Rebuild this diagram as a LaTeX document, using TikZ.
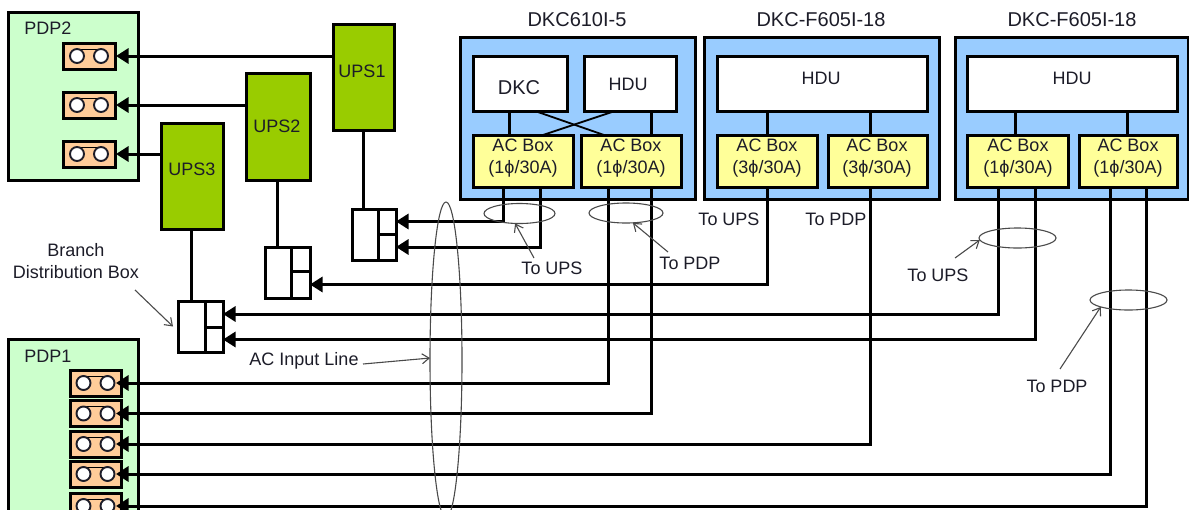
\documentclass[tikz,border=0pt]{standalone}
\usepackage{fontspec}
\setmainfont{Liberation Sans}
\usetikzlibrary{arrows.meta,shapes.geometric,calc}
\definecolor{pdpgreen}{HTML}{CCFFCC}
\definecolor{outletorange}{HTML}{FFCC99}
\definecolor{upsgreen}{HTML}{99CC00}
\definecolor{dkblue}{HTML}{99CCFF}
\definecolor{acyellow}{HTML}{FFFF99}
\definecolor{inkc}{HTML}{1C1C28}
\definecolor{thinc}{HTML}{4A4A4A}
\tikzset{
  rbox/.style={draw=black,line width=3.0pt,inner sep=0pt,outer sep=0pt,anchor=north west},
  pdpbox/.style={rbox,fill=pdpgreen},
  outletbox/.style={rbox,fill=outletorange},
  upsbox/.style={rbox,fill=upsgreen},
  dkbox/.style={rbox,fill=dkblue},
  whitebox/.style={rbox,fill=white},
  acbox/.style={rbox,fill=acyellow},
  lbl/.style={inner sep=0pt,outer sep=0pt,text=inkc,align=center,font=\fontsize{18}{22}\selectfont},
  biglbl/.style={lbl,font=\fontsize{20}{22}\selectfont},
  conn/.style={draw=black,line width=3.0pt},
  feedline/.style={conn,-{Triangle[length=12.5pt,width=15pt]}},
  thinx/.style={draw=black,line width=1.8pt},
  loopring/.style={ellipse,draw=thinc,line width=1.1pt,inner sep=0pt,outer sep=0pt,fill=none},
  pointer/.style={draw=thinc,line width=1.1pt,-{Straight Barb[length=7pt,width=10pt]}},
}
% style, name, x1, y1, x2, y2
\newcommand{\rectnode}[6]{%
  \pgfmathsetmacro{\rw}{#5-#3}\pgfmathsetmacro{\rh}{#6-#4}%
  \node[#1,minimum width=\rw pt,minimum height=\rh pt] (#2) at (#3,#4) {};}
% name, x1, y1, x2, y2 (circle spacing fixed)
\newcommand{\outlet}[5]{%
  \rectnode{outletbox}{#1}{#2}{#3}{#4}{#5}%
  \draw[black,line width=1pt] ($(#1.center)+(-12,-7)$) -- ($(#1.center)+(12,-7)$);
  \draw[fill=white,draw=inkc,line width=1.9pt] ($(#1.center)+(-12,0)$) circle (7pt);
  \draw[fill=white,draw=inkc,line width=1.9pt] ($(#1.center)+(12,0)$) circle (7pt);}
% from, to, x : vertical stem
\newcommand{\stem}[3]{\coordinate (hh) at (#3,0);\draw[conn] (#1.south -| hh) -- (#2.north -| hh);}
% from, to, x : feed to a branch box
\newcommand{\feedbox}[3]{\coordinate (hh) at (#3,0);\draw[feedline] (#1.south -| hh) |- (#2.east);}
% from, to, x : feed to an outlet
\newcommand{\feedout}[3]{\coordinate (hh) at (#3,0);\draw[feedline] (#1.south -| hh) |- ([xshift=-5pt]#2.east);}
\begin{document}
\begin{tikzpicture}[x=1pt,y=-1pt]
\useasboundingbox (0,0) rectangle (1189,509);
\clip (0,0) rectangle (1189,509);

% PDP2
\rectnode{pdpbox}{pdp2}{8}{12}{138}{180}
\node[lbl] (pdp2l) at (48,28) {PDP2};
\outlet{oa}{63}{43}{115}{69}
\outlet{ob}{63}{92}{115}{118}
\outlet{oc}{63}{141}{115}{167}

% PDP1
\rectnode{pdpbox}{pdp1}{8}{339}{138}{530}
\node[lbl] (pdp1l) at (48,356) {PDP1};
\outlet{pa}{70}{370}{121}{396}
\outlet{pb}{70}{400.5}{121}{426.5}
\outlet{pc}{70}{431}{121}{457}
\outlet{pd}{70}{461}{121}{487}
\outlet{pe}{70}{493}{121}{519}

% UPS
\rectnode{upsbox}{ups1}{333}{24}{394}{130}
\node[lbl] (ups1l) at (362,71) {UPS1};
\rectnode{upsbox}{ups2}{246}{73}{310}{180}
\node[lbl] (ups2l) at (277,126) {UPS2};
\rectnode{upsbox}{ups3}{161}{123}{223}{229}
\node[lbl] (ups3l) at (192,169) {UPS3};

\draw[feedline] (ups1.west |- oa.east) -- ([xshift=1pt]oa.east);
\draw[feedline] (ups2.west |- ob.east) -- ([xshift=1pt]ob.east);
\draw[feedline] (ups3.west |- oc.east) -- ([xshift=1pt]oc.east);

% Branch distribution boxes
\rectnode{whitebox}{bal}{352}{209}{378}{260}
\rectnode{whitebox}{baa}{378}{209}{396}{234}
\rectnode{whitebox}{bab}{378}{234}{396}{260}
\rectnode{whitebox}{bbl}{265}{247}{291}{298}
\rectnode{whitebox}{bba}{291}{247}{310}{271}
\rectnode{whitebox}{bbb}{291}{271}{310}{298}
\rectnode{whitebox}{bcl}{178}{301}{205}{352}
\rectnode{whitebox}{bca}{205}{301}{223}{327}
\rectnode{whitebox}{bcb}{205}{327}{223}{352}

\stem{ups1}{bal}{363}
\stem{ups2}{bbl}{277}
\stem{ups3}{bcl}{191}

% DKC610I-5
\node[biglbl] (t1) at (577,20) {DKC610I-5};
\rectnode{dkbox}{fa}{460}{37}{695}{199}
\rectnode{whitebox}{dkc}{473}{56}{567}{111}
\node[biglbl] (dkcl) at (519,88) {DKC};
\rectnode{whitebox}{hdua}{584}{56}{676}{111}
\node[lbl] (hdual) at (628,84) {HDU};
\rectnode{acbox}{aca}{473}{135}{573}{187}
\node[lbl] (acal) at (523,158) {AC Box\\(1ϕ/30A)};
\rectnode{acbox}{acb}{581}{135}{681}{187}
\node[lbl] (acbl) at (631,158) {AC Box\\(1ϕ/30A)};
\stem{dkc}{aca}{509}
\stem{hdua}{acb}{651}
\coordinate (cxa) at (535,0);\coordinate (cxb) at (604,0);
\coordinate (cxc) at (615,0);\coordinate (cxd) at (543,0);
\draw[thinx] (dkc.south -| cxa) -- (acb.north -| cxb);
\draw[thinx] (hdua.south -| cxc) -- (aca.north -| cxd);

% DKC-F605I-18 (middle)
\node[biglbl] (t2) at (821,20) {DKC-F605I-18};
\rectnode{dkbox}{fb}{704}{37}{939}{199}
\rectnode{whitebox}{hdub}{717}{56}{927}{111}
\node[lbl] (hdubl) at (821,78) {HDU};
\rectnode{acbox}{acc}{717}{135}{817}{187}
\node[lbl] (accl) at (767,158) {AC Box\\(3ϕ/30A)};
\rectnode{acbox}{acd}{828}{135}{927}{187}
\node[lbl] (acdl) at (877,158) {AC Box\\(3ϕ/30A)};
\stem{hdub}{acc}{767}
\stem{hdub}{acd}{870}

% DKC-F605I-18 (right)
\node[biglbl] (t3) at (1072,20) {DKC-F605I-18};
\rectnode{dkbox}{fc}{955}{37}{1188}{199}
\rectnode{whitebox}{hduc}{967}{56}{1177}{111}
\node[lbl] (hducl) at (1072,78) {HDU};
\rectnode{acbox}{ace}{967}{135}{1068}{187}
\node[lbl] (acel) at (1018,158) {AC Box\\(1ϕ/30A)};
\rectnode{acbox}{acf}{1079}{135}{1177}{187}
\node[lbl] (acfl) at (1128,158) {AC Box\\(1ϕ/30A)};
\stem{hduc}{ace}{1015}
\stem{hduc}{acf}{1127}

% Feed lines
\feedbox{aca}{baa}{503}
\feedbox{aca}{bab}{540}
\feedbox{acc}{bbb}{767}
\feedbox{ace}{bca}{998}
\feedbox{ace}{bcb}{1035}
\feedout{acb}{pa}{608}
\feedout{acb}{pb}{651}
\feedout{acd}{pc}{870}
\feedout{acf}{pd}{1110}
\feedout{acf}{pe}{1146}

% Loop rings
\node[loopring,minimum width=71pt,minimum height=20pt] (ra) at (519.5,213.5) {};
\node[loopring,minimum width=74pt,minimum height=20pt] (rb) at (626,213) {};
\node[loopring,minimum width=77pt,minimum height=20pt] (rc) at (1017.5,238) {};
\node[loopring,minimum width=77pt,minimum height=20pt] (rd) at (1128.5,300) {};
\node[loopring,minimum width=32pt,minimum height=316pt] (re) at (446,360) {};

% Annotations
\node[lbl] (tua) at (552,268) {To UPS};
\coordinate (tuas) at (534,258);
\draw[pointer] (tuas) -- (ra.246);
\node[lbl] (tpa) at (690,263) {To PDP};
\coordinate (tpas) at (668,252);
\draw[pointer] (tpas) -- (rb.305);
\node[lbl] (tub) at (729,219) {To UPS};
\node[lbl] (tpb) at (836,219) {To PDP};
\node[lbl] (tuc) at (938,275) {To UPS};
\coordinate (tucs) at (955,258);
\draw[pointer] (tucs) -- (rc.183);
\node[lbl] (tpc) at (1057,386) {To PDP};
\coordinate (tpcs) at (1060,369);
\draw[pointer] (tpcs) -- (rd.194);
\node[lbl] (bdl) at (76,261) {Branch\\Distribution Box};
\coordinate (bds) at (135,290);
\draw[pointer] (bds) -- ([xshift=-5pt]bcl.west);
\node[lbl] (acl) at (304,361) {AC Input Line};
\coordinate (acs) at (363,364);
\draw[pointer] (acs) -- (re.173);
\end{tikzpicture}
\end{document}
